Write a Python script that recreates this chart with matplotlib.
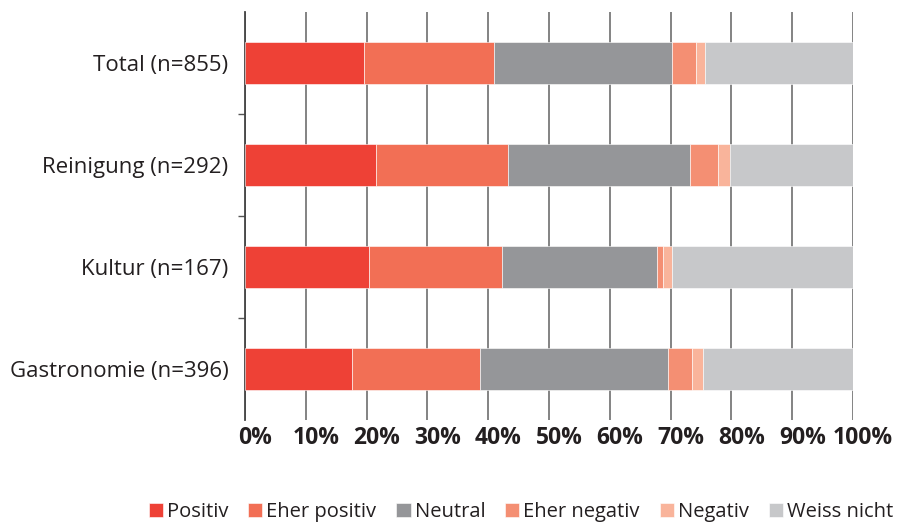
import matplotlib
matplotlib.use("Agg")
import matplotlib.pyplot as plt
import matplotlib.transforms as mtransforms
import numpy as np

categories = ["Total (n=855)", "Reinigung (n=292)", "Kultur (n=167)", "Gastronomie (n=396)"]
series_names = ["Positiv", "Eher positiv", "Neutral", "Eher negativ", "Negativ", "Weiss nicht"]
positiv = [19.6, 21.5, 20.4, 17.6]
eher_positiv = [21.4, 21.7, 21.9, 21.0]
neutral = [29.3, 30.0, 25.4, 30.9]
eher_negativ = [3.9, 4.6, 1.0, 4.1]
negativ = [1.5, 2.0, 1.5, 1.7]
weiss_nicht = [24.3, 20.2, 29.8, 24.7]
colors = ["#EE4136", "#F26F55", "#959699", "#F48F73", "#F9B49B", "#C7C8CA"]
xticks = [0, 10, 20, 30, 40, 50, 60, 70, 80, 90, 100]

plt.rcParams["font.family"] = ["Open Sans", "DejaVu Sans"]

fig = plt.figure(figsize=(9.09, 5.25), dpi=100)
ax = fig.add_axes([245 / 909, 1 - 420 / 525, (853 - 245) / 909, (420 - 12) / 525])

values = [positiv, eher_positiv, neutral, eher_negativ, negativ, weiss_nicht]
y = np.arange(len(categories))
left = np.zeros(len(categories))
for name, vals, col in zip(series_names, values, colors):
    ax.barh(y, vals, left=left, height=0.42, color=col, label=name, zorder=3,
            edgecolor="white", linewidth=0.4)
    left += np.array(vals)

ax.set_xlim(0, 100)
ax.set_ylim(3.5, -0.5)
ax.set_xticks(xticks)
ax.set_xticklabels([f"{t}%" for t in xticks], fontsize=16.5, fontweight="bold", color="#231F20")
ax.tick_params(axis="x", length=0, pad=4)
# percent labels sit slightly right of their gridlines
shift = mtransforms.ScaledTranslation(10 / 100, 0, fig.dpi_scale_trans)
for lbl in ax.get_xticklabels():
    lbl.set_transform(lbl.get_transform() + shift)

ax.set_yticks(y)
ax.set_yticklabels(categories, fontsize=16, color="#231F20")
ax.tick_params(axis="y", which="major", length=0, pad=12)
ax.set_yticks([0.5, 1.5, 2.5], minor=True)
ax.tick_params(axis="y", which="minor", length=5, width=1, color="#555555")

ax.grid(axis="x", color="#7a7a7a", linewidth=1.3, zorder=0)
for s in ["top", "right", "bottom"]:
    ax.spines[s].set_visible(False)
ax.spines["left"].set_color("#444444")
ax.spines["left"].set_linewidth(1.3)

handles, labels = ax.get_legend_handles_labels()
fig.legend(handles, labels, loc="center", bbox_to_anchor=(521 / 909, 1 - 512 / 525),
           ncol=6, frameon=False, fontsize=14.5, handlelength=0.7, handleheight=0.7,
           handletextpad=0.2, columnspacing=1.0, labelcolor="#231F20")

fig.savefig("out.png", dpi=100)
